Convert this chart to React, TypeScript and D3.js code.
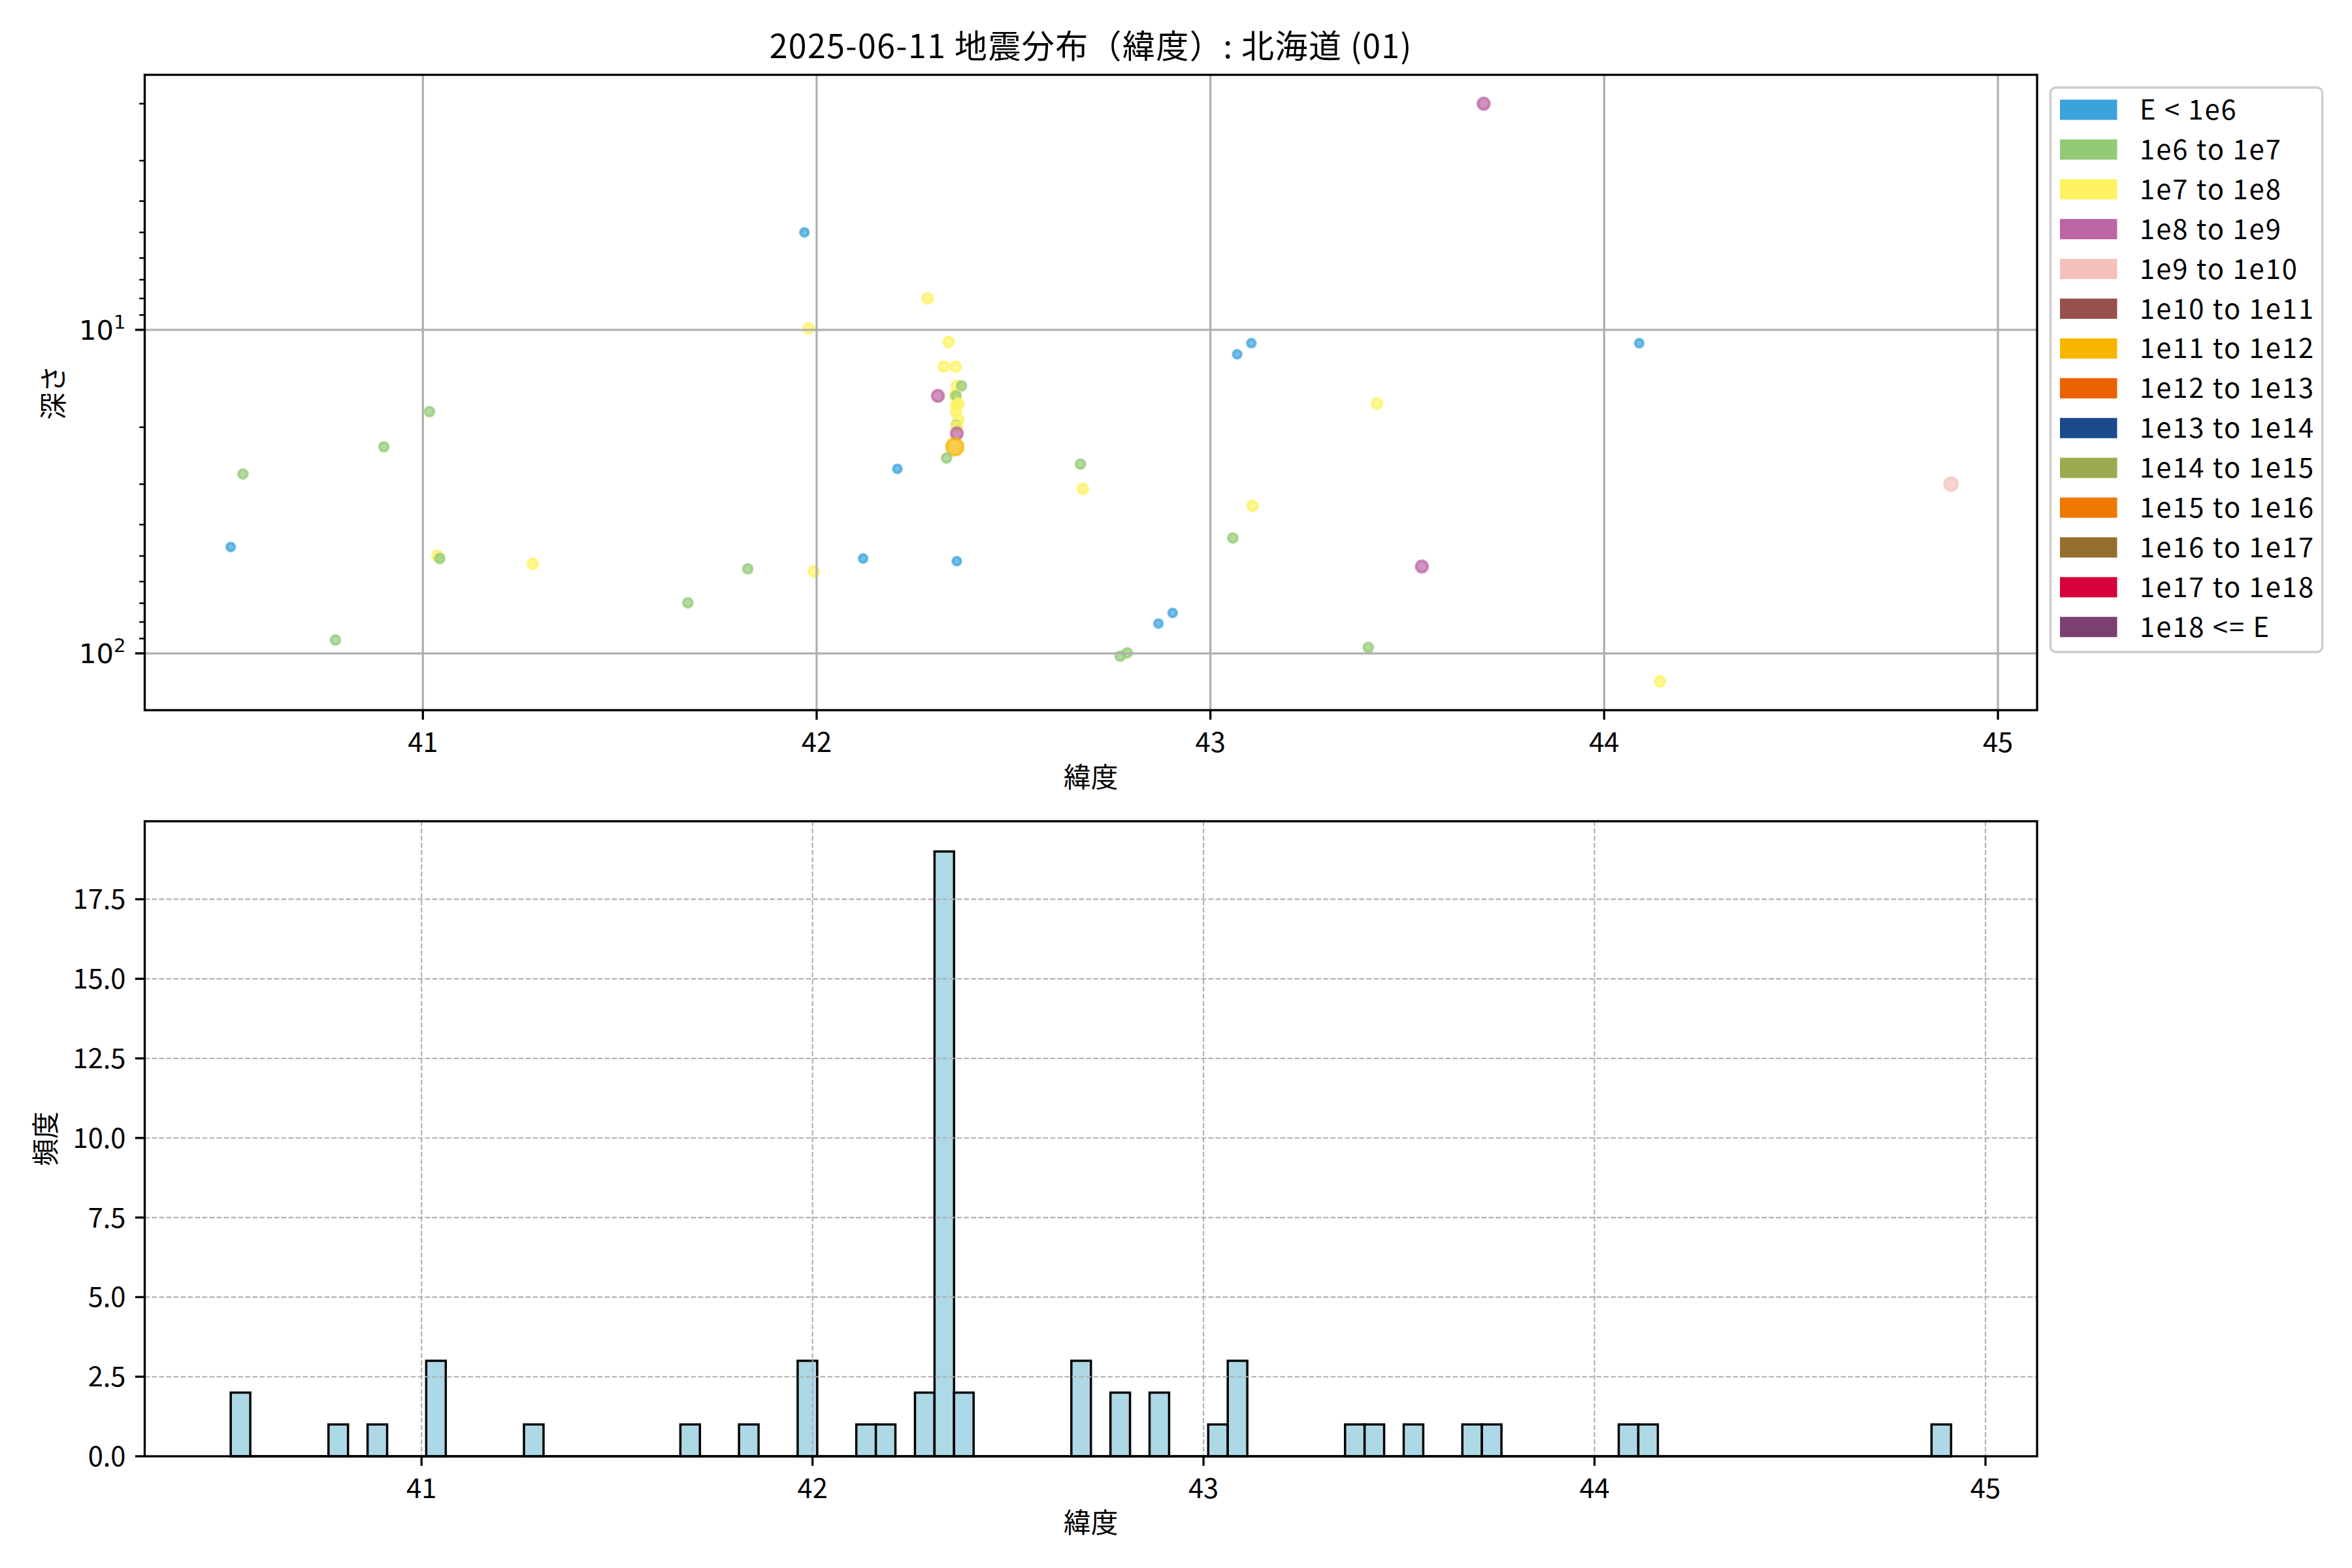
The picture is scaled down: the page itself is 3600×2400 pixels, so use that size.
import * as d3 from "d3";

// 震源の緯度・深さ・エネルギー階級（深さ0は対数軸に載らない）
const lat = [
  41.969, 41.980, 41.017, 40.901, 40.543, 40.512, 41.037, 41.043, 41.279, 41.825,
  41.993, 41.673, 40.778, 43.694, 42.282, 42.335, 42.323, 42.353, 42.356, 42.368,
  42.308, 42.352, 42.354, 42.360, 42.354, 42.354, 42.360, 42.355, 42.356, 42.356,
  42.351, 42.330, 42.205, 42.670, 42.676, 43.107, 43.068, 43.104, 43.423, 43.057,
  43.537, 42.118, 42.356, 42.904, 42.868, 42.789, 42.771, 43.401, 44.089, 44.881,
  44.142, 42.340, 42.345, 42.348, 42.380, 42.690, 43.740,
];
const depth = [
  5.0, 9.9, 17.9, 23.0, 27.9, 46.9, 49.9, 50.9, 52.9, 54.8,
  55.8, 69.8, 90.9, 2.0, 8.0, 10.9, 13.0, 13.0, 14.9, 14.9,
  16.0, 15.9, 16.0, 16.9, 17.1, 17.9, 18.9, 19.7, 19.9, 20.9,
  23.0, 24.9, 26.9, 26.0, 31.0, 35.0, 11.9, 11.0, 16.9, 44.0,
  53.9, 50.9, 51.9, 75.0, 80.9, 99.6, 102, 95.9, 11.0, 30.0,
  122, 0, 0, 0, 0, 0, 0,
];
const energyClass = [
  0, 2, 1, 1, 1, 0, 2, 1, 2, 1,
  2, 1, 1, 3, 2, 2, 2, 2, 2, 1,
  3, 2, 1, 2, 2, 2, 2, 1, 2, 3,
  6, 1, 0, 1, 2, 2, 0, 0, 2, 1,
  3, 0, 0, 0, 0, 1, 1, 1, 0, 4,
  2, 1, 1, 1, 1, 1, 1,
];

const classLabels = [
  "E < 1e6", "1e6 to 1e7", "1e7 to 1e8", "1e8 to 1e9", "1e9 to 1e10",
  "1e10 to 1e11", "1e11 to 1e12", "1e12 to 1e13", "1e13 to 1e14", "1e14 to 1e15",
  "1e15 to 1e16", "1e16 to 1e17", "1e17 to 1e18", "1e18 <= E",
];
const classColors = [
  "#3ca2dc", "#93ca76", "#fef263", "#bc64a4", "#f5c0bb", "#96514d", "#f8b500",
  "#eb6101", "#1b4a8c", "#9bab4f", "#ee7800", "#946e2c", "#d7003a", "#7b3f71",
];

const latTicks = [41, 42, 43, 44, 45];
const depthTicks = [10, 100];
const countTicks = [0, 2.5, 5, 7.5, 10, 12.5, 15, 17.5];
const binWidth = 0.05;

const TITLE = "2025-06-11 地震分布（緯度）: 北海道 (01)";

// marker outer diameters per class (px)
const markerDiam = [16.5, 18, 19.7, 21.7, 24, 26.7, 29.7, 33, 36, 39, 42, 45, 48, 51];

const W = 3600, H = 2400;
const L = 221.5, R = 3118;
const T1 = 114.5, B1 = 1087;
const T2 = 1257, B2 = 2229;
const FS = 41.7;
const JP = "'Noto Sans CJK JP', 'Noto Sans', sans-serif";
const MATH = "'DejaVu Sans', sans-serif";

const pad = (lo: number, hi: number) => {
  const m = (hi - lo) * 0.05;
  return [lo - m, hi + m];
};

export default function App() {
  const pts = lat.map((x, i) => ({ x, d: depth[i], c: energyClass[i] }));
  const shown = pts.filter(p => p.d > 0);

  // scatter scales
  const [sx0, sx1] = pad(d3.min(shown, p => p.x)!, d3.max(shown, p => p.x)!);
  const x1 = d3.scaleLinear().domain([sx0, sx1]).range([L, R]);
  const [ly0, ly1] = pad(Math.log10(d3.min(shown, p => p.d)!), Math.log10(d3.max(shown, p => p.d)!));
  const y1 = d3.scaleLog().domain([10 ** ly0, 10 ** ly1]).range([T1, B1]);

  const minor: number[] = [];
  for (const k of [0, 1, 2]) {
    for (let m = 2; m <= 9; m++) {
      const v = m * 10 ** k;
      if (v >= 10 ** ly0 && v <= 10 ** ly1) minor.push(v);
    }
  }

  // histogram
  const latMin = d3.min(lat)!, latMax = d3.max(lat)!;
  const nEdges = Math.ceil((latMax - latMin) / binWidth + 1);
  const edges = d3.range(nEdges).map(i => latMin + i * binWidth);
  const bins = d3.bin()
    .domain([edges[0], edges[nEdges - 1]])
    .thresholds(edges.slice(1, -1))(lat);
  const [hx0, hx1] = pad(edges[0], edges[nEdges - 1]);
  const x2 = d3.scaleLinear().domain([hx0, hx1]).range([L, R]);
  const maxCount = d3.max(bins, b => b.length)!;
  const y2 = d3.scaleLinear().domain([0, maxCount * 1.05]).range([B2, T2]);

  const cx = (L + R) / 2;

  return (
    <svg width={W} height={H} style={{ position: "absolute", left: 0, top: 0, background: "#fff" }}
      fontFamily={JP}>
      <rect width={W} height={H} fill="#fff" />
      <text x={cx} y={89} fontSize={50} textAnchor="middle" letterSpacing={1.4}>{TITLE}</text>

      {/* ---------- scatter: latitude vs depth ---------- */}
      {shown.map((p, i) => {
        const d = markerDiam[p.c];
        return (
          <circle key={i} cx={x1(p.x)} cy={y1(p.d)} r={d / 2 - 2}
            fill={classColors[p.c]} fillOpacity={0.7}
            stroke={classColors[p.c]} strokeOpacity={0.7} strokeWidth={4} />
        );
      })}
      {latTicks.filter(t => t >= sx0 && t <= sx1).map(t => (
        <line key={"gx" + t} x1={x1(t)} x2={x1(t)} y1={T1} y2={B1} stroke="#b0b0b0" strokeWidth={3.3} />
      ))}
      {depthTicks.map(t => (
        <line key={"gy" + t} x1={L} x2={R} y1={y1(t)} y2={y1(t)} stroke="#b0b0b0" strokeWidth={3.3} />
      ))}
      <rect x={L} y={T1} width={R - L} height={B1 - T1} fill="none" stroke="#000" strokeWidth={3.33} />
      {latTicks.filter(t => t >= sx0 && t <= sx1).map(t => (
        <g key={"tx" + t}>
          <line x1={x1(t)} x2={x1(t)} y1={B1} y2={B1 + 14.6} stroke="#000" strokeWidth={3.33} />
          <text x={x1(t)} y={B1 + 64} fontSize={FS} textAnchor="middle">{t}</text>
        </g>
      ))}
      {minor.map(v => (
        <line key={"mn" + v} x1={L - 8.3} x2={L} y1={y1(v)} y2={y1(v)} stroke="#000" strokeWidth={2.5} />
      ))}
      {depthTicks.map(t => (
        <g key={"ty" + t}>
          <line x1={L - 14.6} x2={L} y1={y1(t)} y2={y1(t)} stroke="#000" strokeWidth={3.33} />
          <text x={L - 29} y={y1(t) + 15} fontSize={FS} textAnchor="end" fontFamily={MATH}>
            10<tspan fontSize={FS * 0.7} dy={-17}>{Math.round(Math.log10(t))}</tspan>
          </text>
        </g>
      ))}
      <text x={cx} y={B1 + 118} fontSize={FS} textAnchor="middle">緯度</text>
      <text x={97} y={(T1 + B1) / 2} fontSize={FS} textAnchor="middle"
        transform={`rotate(-90, 97, ${(T1 + B1) / 2})`}>深さ</text>

      {/* legend */}
      <rect x={3138.5} y={134} width={416} height={864} rx={8} fill="#fff" fillOpacity={0.8}
        stroke="#cccccc" strokeWidth={3.3} />
      {classLabels.map((lab, i) => {
        const cy = 168 + i * 60.9;
        return (
          <g key={"lg" + i}>
            <rect x={3153} y={cy - 15.5} width={87.5} height={31} fill={classColors[i]} />
            <text x={3275} y={cy + 15} fontSize={FS} letterSpacing={2}>{lab}</text>
          </g>
        );
      })}

      {/* ---------- histogram ---------- */}
      <line x1={x2(edges[0])} x2={x2(edges[nEdges - 1])} y1={y2(0)} y2={y2(0)} stroke="#000" strokeWidth={3.5} />
      {bins.filter(b => b.length > 0).map((b, i) => (
        <rect key={"b" + i} x={x2(b.x0!)} y={y2(b.length)} width={x2(b.x1!) - x2(b.x0!)}
          height={y2(0) - y2(b.length)} fill="#add8e6" stroke="#000" strokeWidth={3.5} />
      ))}
      {latTicks.filter(t => t >= hx0 && t <= hx1).map(t => (
        <line key={"hgx" + t} x1={x2(t)} x2={x2(t)} y1={T2} y2={B2} stroke="#b0b0b0"
          strokeWidth={2.1} strokeDasharray="7.7 3.3" />
      ))}
      {countTicks.filter(t => t > 0).map(t => (
        <line key={"hgy" + t} x1={L} x2={R} y1={y2(t)} y2={y2(t)} stroke="#b0b0b0"
          strokeWidth={2.1} strokeDasharray="7.7 3.3" />
      ))}
      <rect x={L} y={T2} width={R - L} height={B2 - T2} fill="none" stroke="#000" strokeWidth={3.33} />
      {latTicks.filter(t => t >= hx0 && t <= hx1).map(t => (
        <g key={"htx" + t}>
          <line x1={x2(t)} x2={x2(t)} y1={B2} y2={B2 + 14.6} stroke="#000" strokeWidth={3.33} />
          <text x={x2(t)} y={B2 + 64} fontSize={FS} textAnchor="middle">{t}</text>
        </g>
      ))}
      {countTicks.map(t => (
        <g key={"hty" + t}>
          <line x1={L - 14.6} x2={L} y1={y2(t)} y2={y2(t)} stroke="#000" strokeWidth={3.33} />
          <text x={L - 29} y={y2(t) + 15} fontSize={FS} textAnchor="end">{t.toFixed(1)}</text>
        </g>
      ))}
      <text x={cx} y={B2 + 117} fontSize={FS} textAnchor="middle">緯度</text>
      <text x={85} y={(T2 + B2) / 2} fontSize={FS} textAnchor="middle"
        transform={`rotate(-90, 85, ${(T2 + B2) / 2})`}>頻度</text>
    </svg>
  );
}
